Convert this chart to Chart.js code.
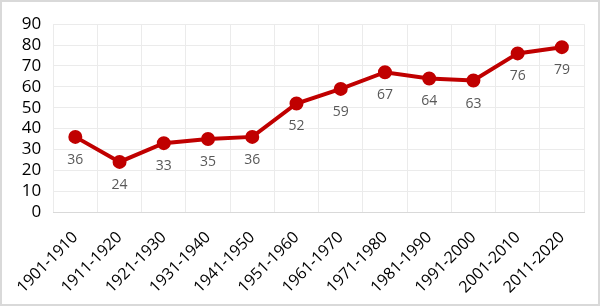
<!DOCTYPE html>
<html>
<head>
<meta charset="utf-8">
<script src="https://cdn.jsdelivr.net/npm/chart.js@4"></script>
<style>
  html, body { margin: 0; padding: 0; background: #fff; }
  #wrap { width: 600px; height: 306px; box-sizing: border-box; border: 2px solid #d9d9d9; }
</style>
</head>
<body>
<div id="wrap"><canvas id="chart" width="596" height="302"></canvas></div>
<script>
const decades = ['1901-1910', '1911-1920', '1921-1930', '1931-1940', '1941-1950', '1951-1960',
  '1961-1970', '1971-1980', '1981-1990', '1991-2000', '2001-2010', '2011-2020'];
const values = [36, 24, 33, 35, 36, 52, 59, 67, 64, 63, 76, 79];
const yTicks = [0, 10, 20, 30, 40, 50, 60, 70, 80, 90];

// draws the value under each point
const pointLabels = {
  id: 'pointLabels',
  afterDatasetsDraw(chart) {
    const ctx = chart.ctx;
    const meta = chart.getDatasetMeta(0);
    ctx.save();
    ctx.font = '14px "Open Sans", sans-serif';
    ctx.fillStyle = '#595959';
    ctx.textAlign = 'center';
    ctx.textBaseline = 'middle';
    meta.data.forEach(function(pt, i) {
      ctx.fillText(values[i], pt.x, pt.y + 23);
    });
    ctx.restore();
  }
};

const config = {
  type: 'line',
  data: {
    labels: decades,
    datasets: [{
      data: values,
      borderColor: '#c00000',
      backgroundColor: '#c00000',
      borderWidth: 4,
      pointRadius: 5,
      pointHoverRadius: 5,
      tension: 0
    }]
  },
  options: {
    responsive: false,
    animation: false,
    layout: { padding: { top: 8, right: 14, left: 3, bottom: 0 } },
    plugins: {
      legend: { display: false },
      tooltip: { enabled: false }
    },
    scales: {
      x: {
        offset: true,
        afterFit(axis) { axis.height = 92; },
        grid: { offset: true, color: '#ebebeb', drawTicks: false },
        border: { color: '#d9d9d9' },
        ticks: {
          color: '#000',
          font: { family: '"Open Sans", sans-serif', size: 16 },
          maxRotation: 45,
          minRotation: 45,
          autoSkip: false,
          padding: 16
        }
      },
      y: {
        min: 0,
        max: 90,
        afterBuildTicks(axis) { axis.ticks = yTicks.map(function(v) { return { value: v }; }); },
        grid: { color: '#ebebeb', drawTicks: false },
        border: { display: false },
        ticks: {
          color: '#000',
          font: { family: '"Open Sans", sans-serif', size: 17 },
          autoSkip: false,
          padding: 12
        }
      }
    }
  },
  plugins: [pointLabels]
};

const myChart = new Chart(document.getElementById('chart'), config);
</script>
</body>
</html>
